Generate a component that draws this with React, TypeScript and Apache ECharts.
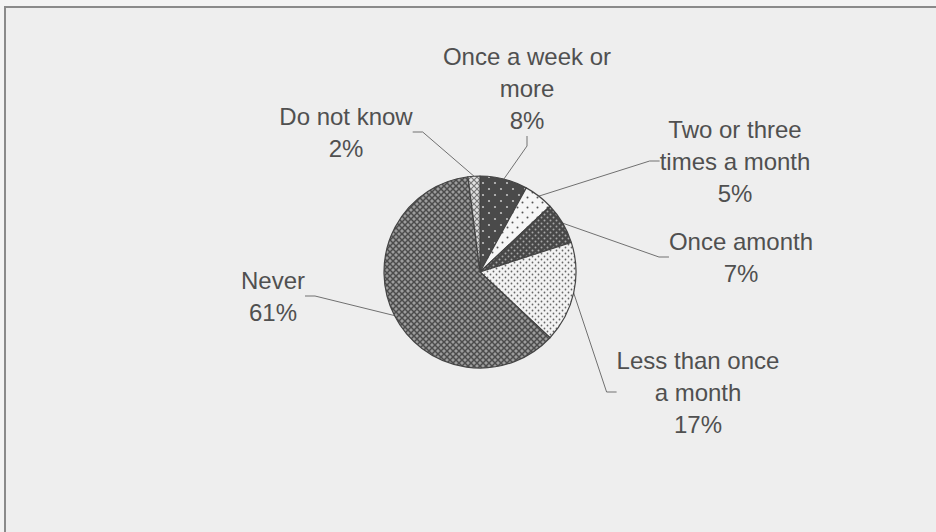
import React, { useEffect, useRef } from "react";
import * as echarts from "echarts";

const categories = [
  "Once a week or\nmore",
  "Two or three\ntimes a month",
  "Once amonth",
  "Less than once\na month",
  "Never",
  "Do not know",
];
const values = [8, 5, 7, 17, 61, 2];

// label block centres (layout only)
const labelPos: [number, number][] = [
  [527, 88],
  [735, 161],
  [741, 257],
  [698, 392],
  [273, 296],
  [346, 132],
];

type Drawer = (ctx: CanvasRenderingContext2D, s: number) => void;

function makePattern(size: number, bg: string, draw: Drawer) {
  const c = document.createElement("canvas");
  c.width = size;
  c.height = size;
  const ctx = c.getContext("2d")!;
  ctx.fillStyle = bg;
  ctx.fillRect(0, 0, size, size);
  draw(ctx, size);
  return {
    image: c,
    repeat: "repeat",
    imageWidth: size,
    imageHeight: size,
  } as any;
}

function dots(color: string, r: number): Drawer {
  return (ctx, s) => {
    ctx.fillStyle = color;
    const pts = [
      [s / 4, s / 4],
      [(3 * s) / 4, (3 * s) / 4],
    ];
    pts.forEach(([x, y]) => {
      ctx.beginPath();
      ctx.arc(x, y, r, 0, Math.PI * 2);
      ctx.fill();
    });
  };
}

function cross(color: string, w: number): Drawer {
  return (ctx, s) => {
    ctx.strokeStyle = color;
    ctx.lineWidth = w;
    ctx.beginPath();
    ctx.moveTo(0, 0);
    ctx.lineTo(s, s);
    ctx.moveTo(s, 0);
    ctx.lineTo(0, s);
    ctx.stroke();
  };
}

export default function App() {
  const ref = useRef<HTMLDivElement>(null);
  useEffect(() => {
    document.body.style.margin = "0";
    const chart = echarts.init(ref.current!, null, { renderer: "svg" });
    const fills = [
      makePattern(12, "#4a4a4a", dots("#c4c4c4", 1.1)),
      makePattern(10, "#f6f6f6", dots("#555555", 1.0)),
      makePattern(6, "#484848", dots("#a8a8a8", 1.0)),
      makePattern(6, "#f3f3f3", dots("#666666", 0.9)),
      makePattern(6, "#9c9c9c", cross("#4c4c4c", 1.5)),
      makePattern(6, "#e2e2e2", cross("#777777", 1.2)),
    ];
    chart.setOption({
      animation: false,
      backgroundColor: "#f3f3f3",
      graphic: [
        {
          type: "rect",
          shape: { x: 5, y: 7, width: 960, height: 560 },
          style: { fill: "#eeeeee", stroke: "#8a8a8a", lineWidth: 2 },
          z: -10,
          silent: true,
        },
      ],
      series: [
        {
          type: "pie",
          center: [480, 272],
          radius: 96,
          startAngle: 90,
          clockwise: true,
          avoidLabelOverlap: false,
          data: categories.map((name, i) => ({
            name,
            value: values[i],
            itemStyle: { color: fills[i] },
          })),
          itemStyle: { borderColor: "#444444", borderWidth: 1.2 },
          label: {
            show: true,
            formatter: "{b}\n{c}%",
            fontFamily: "Liberation Sans, Arial, sans-serif",
            fontSize: 24,
            lineHeight: 32,
            color: "#505050",
            align: "center",
          },
          labelLine: {
            show: true,
            length: 10,
            length2: 10,
            lineStyle: { color: "#707070", width: 1 },
          },
          labelLayout: (p: any) => {
            const pos = labelPos[p.dataIndex];
            return {
              x: pos[0],
              y: pos[1],
              align: "center",
              verticalAlign: "middle",
            };
          },
          emphasis: { disabled: true },
        },
      ],
    });
    return () => chart.dispose();
  }, []);
  return (
    <div
      ref={ref}
      style={{ position: "absolute", left: 0, top: 0, width: 936, height: 532 }}
    />
  );
}
